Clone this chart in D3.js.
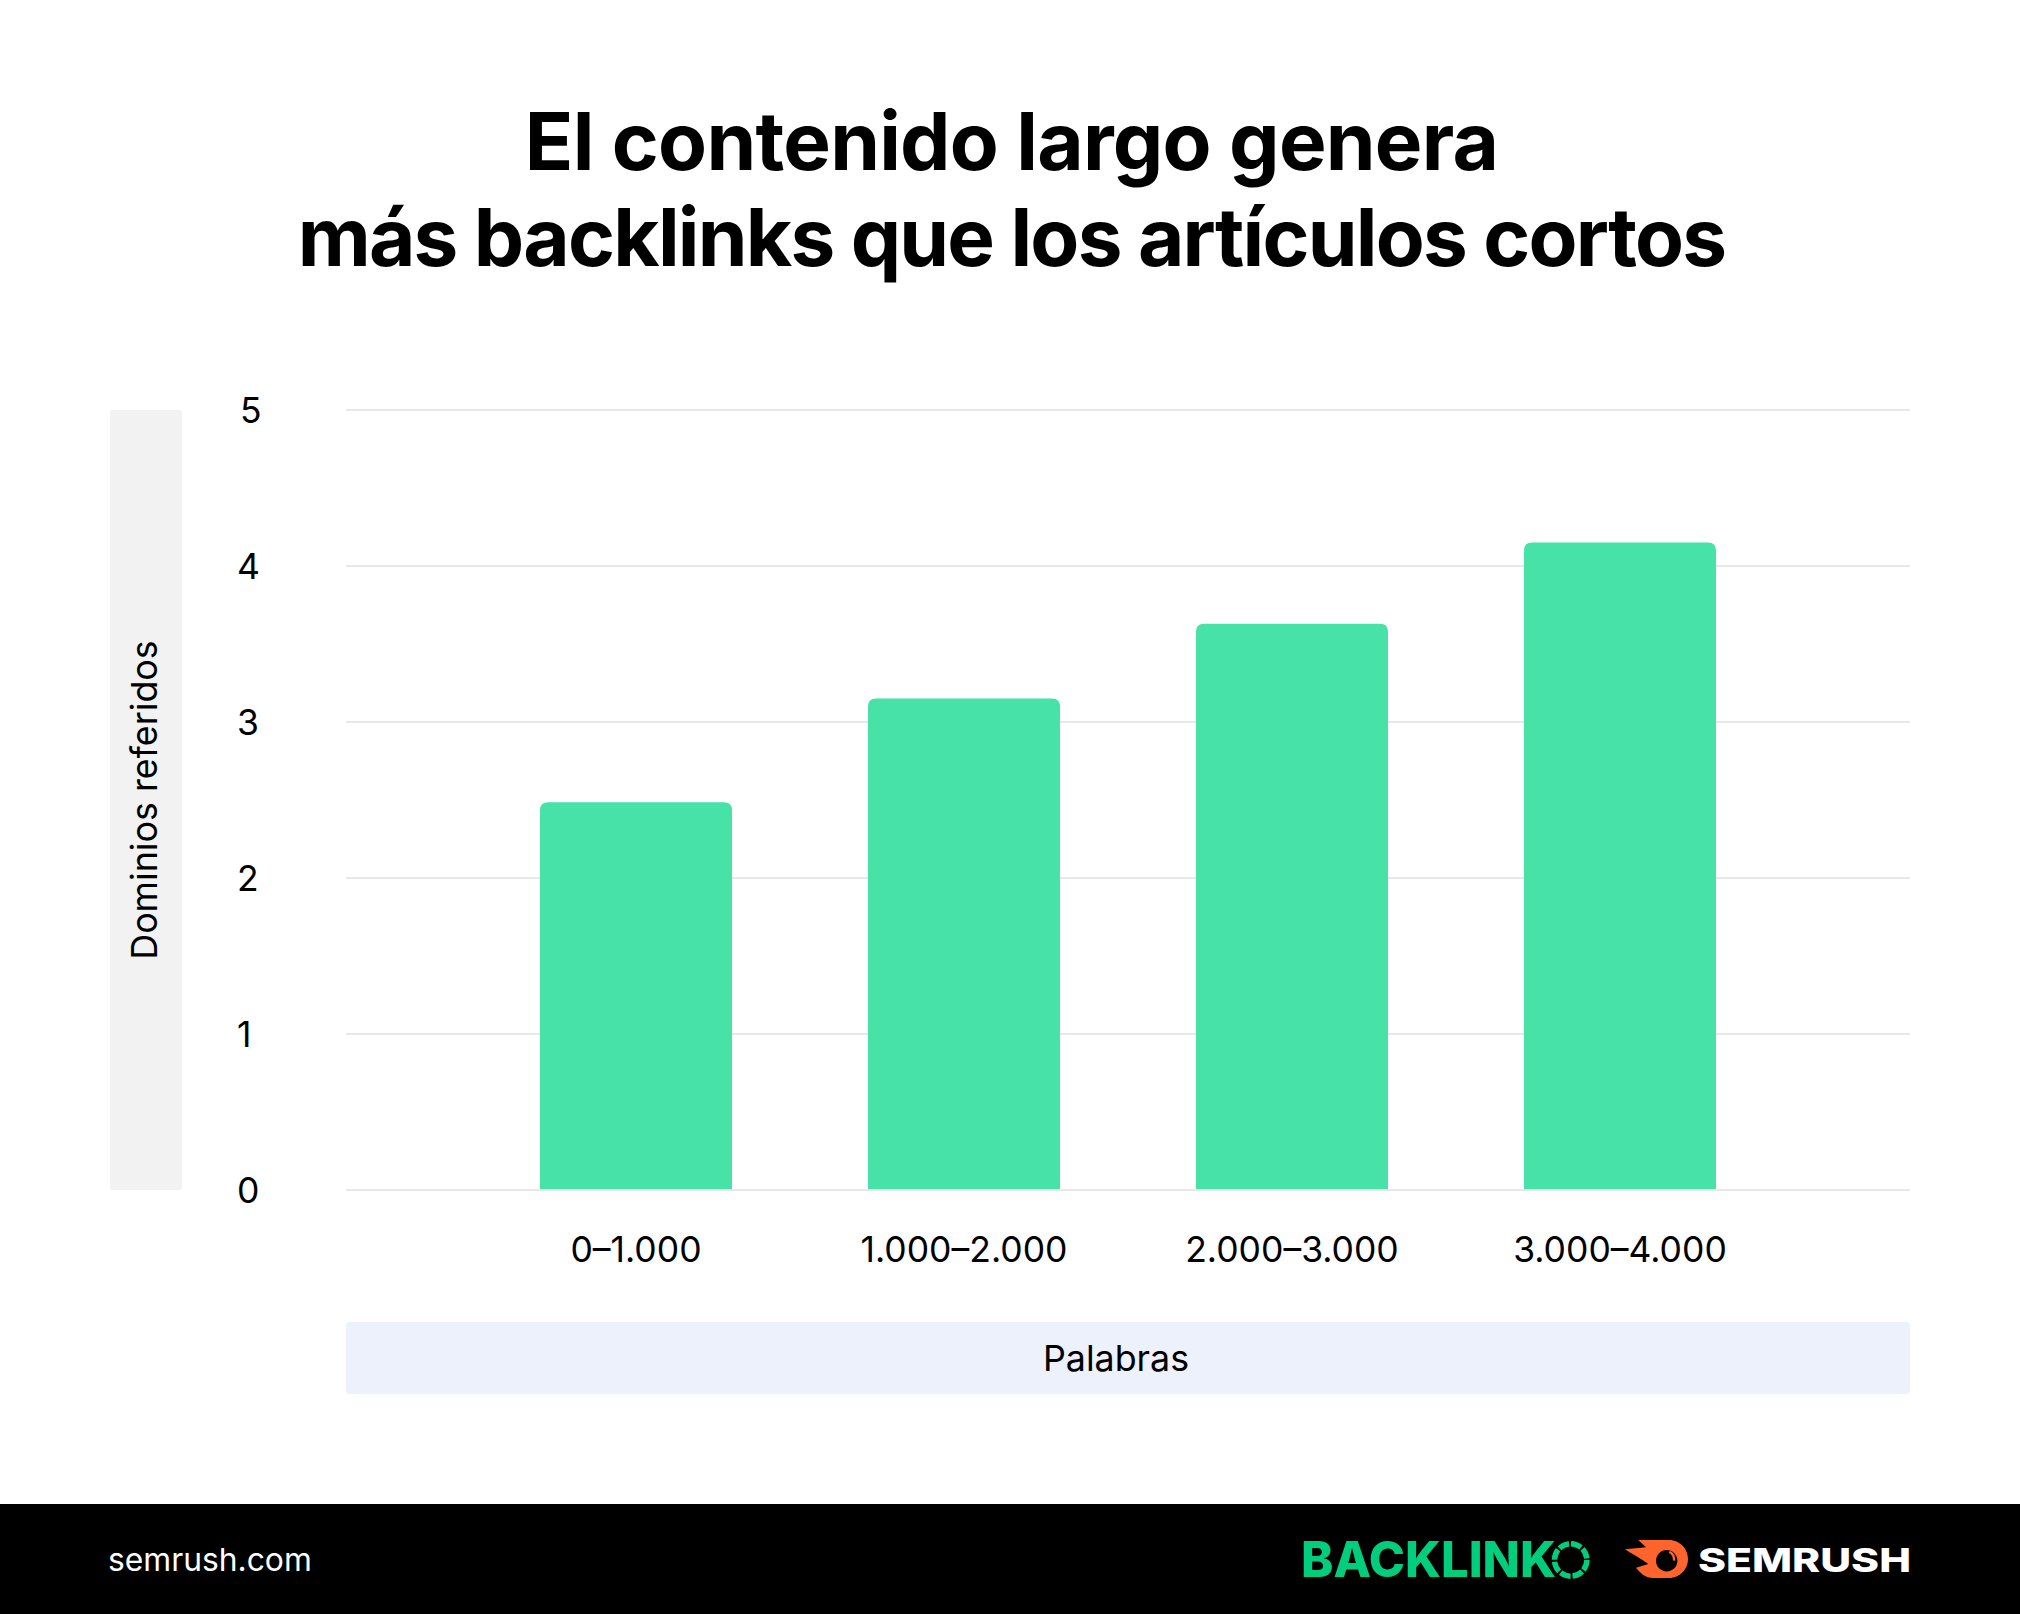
<!DOCTYPE html>
<html><head><meta charset="utf-8">
<script src="https://cdn.jsdelivr.net/npm/d3@7/dist/d3.min.js"></script>
<style>html,body{margin:0;padding:0;background:#fff}svg{display:block}</style>
</head><body><svg id="c" width="2020" height="1614"></svg>
<script>
const categories=["0–1.000","1.000–2.000","2.000–3.000","3.000–4.000"];
const values=[2.485,3.15,3.63,4.15];
const yTicks=[0,1,2,3,4,5];
const titleLines=["El contenido largo genera","más backlinks que los artículos cortos"];
const yTitle="Dominios referidos", xTitle="Palabras", site="semrush.com";
const FONT="Inter, sans-serif";
const svg=d3.select("#c");
svg.append("rect").attr("width",2020).attr("height",1614).attr("fill","#fff");
const x=d3.scaleBand().domain(categories).range([346,1910]).paddingInner(0.4146).paddingOuter(0.5915);
const y=d3.scaleLinear().domain([0,5]).range([1190,410]);

const titleSpacing=[-0.75,-1.76];
svg.selectAll("text.title").data(titleLines).join("text").attr("class","title")
 .attr("x",1011.5).attr("y",(d,i)=>170+i*96).attr("text-anchor","middle")
 .attr("font-family",FONT).attr("font-weight",700).attr("font-size",80).attr("letter-spacing",(d,i)=>titleSpacing[i]).attr("fill","#000").text(d=>d);

svg.append("rect").attr("x",110).attr("y",410).attr("width",72).attr("height",780).attr("rx",4).attr("fill","#f2f2f2");
svg.append("text").attr("transform","translate(157,800) rotate(-90)").attr("text-anchor","middle")
 .attr("font-family",FONT).attr("font-size",35.8).attr("fill","#000").text(yTitle);
svg.append("rect").attr("x",346).attr("y",1322).attr("width",1564).attr("height",72).attr("rx",4).attr("fill","#edf1fc");
svg.append("text").attr("x",1116).attr("y",1371).attr("text-anchor","middle")
 .attr("font-family",FONT).attr("font-size",35.8).attr("fill","#000").text(xTitle);

const gy=svg.append("g").attr("transform","translate(346,0)")
 .call(d3.axisLeft(y).tickValues(yTicks).tickSize(-1564).tickPadding(0).offset(0).tickFormat(d3.format("d")));
gy.select(".domain").remove();
gy.selectAll(".tick line").attr("stroke","#e8e8e8").attr("stroke-width",2);
gy.selectAll(".tick text").attr("x",d=>d===5?-106:-109).attr("text-anchor","start").attr("font-family",FONT).attr("font-size",35.5).attr("fill","#000").attr("dy","0.36em");

const r=8;
svg.append("g").selectAll("path").data(categories).join("path").attr("fill","#46e2a7")
 .attr("d",(c,i)=>{const a=x(c),b=a+x.bandwidth(),t=y(values[i]),z=y(0)-1;
  return `M${a},${z}V${t+r}Q${a},${t} ${a+r},${t}H${b-r}Q${b},${t} ${b},${t+r}V${z}Z`;});

const gx=svg.append("g").attr("transform","translate(0,1190)").call(d3.axisBottom(x).tickSize(0).tickPadding(0).offset(0));
gx.select(".domain").remove();
gx.selectAll(".tick text").attr("y",0).attr("dy",72).attr("font-family",FONT).attr("font-size",35.5).attr("fill","#000");

svg.append("rect").attr("y",1504).attr("width",2020).attr("height",110).attr("fill","#000");
svg.append("text").attr("x",108).attr("y",1571).attr("font-family",FONT).attr("font-size",31.8).attr("fill","#fff").text(site);
svg.append("text").attr("x",1301).attr("y",1577).attr("textLength",255).attr("lengthAdjust","spacingAndGlyphs")
 .attr("font-family",FONT).attr("font-weight",800).attr("font-size",50).attr("fill","#00ce7c").text("BACKLINK");
svg.append("circle").attr("cx",1570.7).attr("cy",1560).attr("r",16.2).attr("fill","none").attr("stroke","#00ce7c").attr("stroke-width",5.5).attr("stroke-dasharray","10.7 2");
svg.append("path").attr("fill","#ff642d").attr("fill-rule","evenodd")
 .attr("d","M1638.3,1540H1669C1680,1540 1688,1549 1688,1559C1688,1569 1680,1578 1669,1578H1653C1646,1578 1640,1573 1636,1567.7L1648.3,1564C1640,1558 1632,1554 1625,1549.3L1646,1547.3Z");
svg.append("circle").attr("cx",1666.7).attr("cy",1560.7).attr("r",10.7).attr("fill","#000");
svg.append("path").attr("fill","none").attr("stroke","#ff642d").attr("stroke-width",2.4).attr("d","M1669.3,1551.7A9,9 0 0 1 1674,1560.7");
svg.append("text").attr("x",1698).attr("y",1572).attr("textLength",213).attr("lengthAdjust","spacingAndGlyphs")
 .attr("font-family",FONT).attr("font-weight",800).attr("font-size",33).attr("fill","#fff").text("SEMRUSH");
</script></body></html>
